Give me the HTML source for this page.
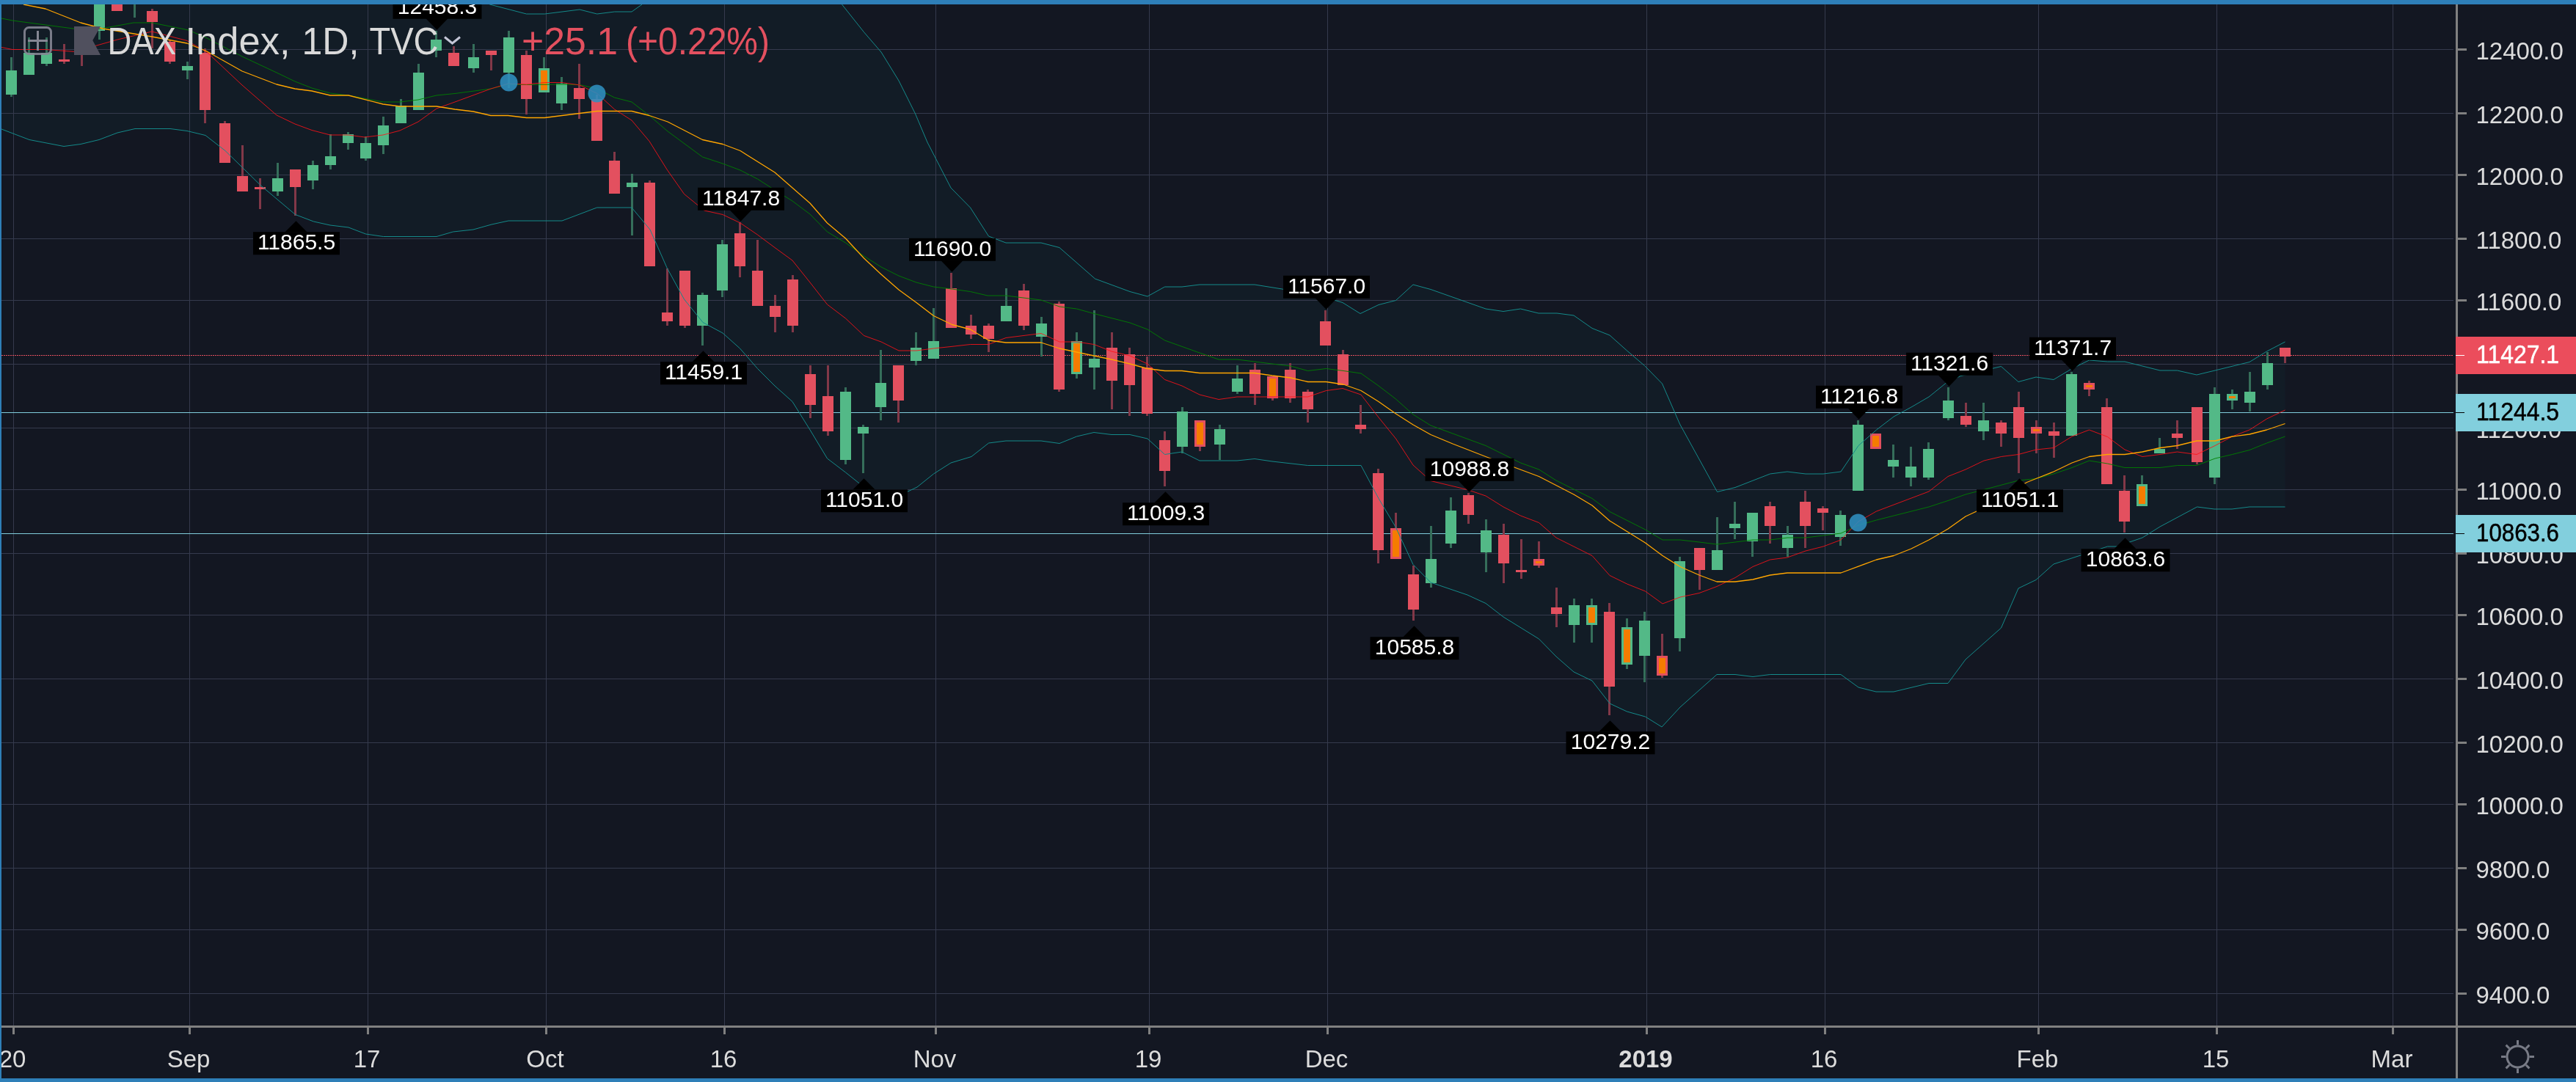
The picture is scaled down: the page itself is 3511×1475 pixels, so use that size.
<!DOCTYPE html>
<html><head><meta charset="utf-8"><title>DAX Index</title>
<style>html,body{margin:0;padding:0;background:#131722;width:3511px;height:1475px}</style>
</head><body>
<svg width="3511" height="1475" viewBox="0 0 3511 1475" style="position:absolute;left:0;top:0;display:block;will-change:transform">
<defs><clipPath id="cp"><rect x="2" y="6" width="3345" height="1392"/></clipPath></defs>
<rect width="3511" height="1475" fill="#131722"/>
<g clip-path="url(#cp)">
<polygon points="2,-60 640,-20 667.5,6 717.5,19 742.5,19 790,13 813.75,19 837.5,16 861,16 875,6 900,-30 1120,-40 1147.5,6 1177.5,43.75 1201,71 1225,110 1247.5,155 1264,194 1296,256 1322.5,283 1347.5,322 1371,331 1419,331 1444,337.5 1492.5,380 1540,397.5 1564,404 1587.5,391 1611,391 1635,388 1710,388 1747.5,394 1820,409.5 1830,412.5 1854,427.5 1879,415.5 1902.5,409.5 1926,388 1950,394.5 2025,421 2049,424.5 2072.5,421 2097,427 2122,427 2145,430 2170,447.5 2194,457 2217.5,478 2241.5,498.5 2265.5,523 2289.5,578 2316.5,627 2340.5,670.5 2365,664.5 2412.5,646 2436,643 2461,646 2485,646 2509,643 2533,607.5 2557.5,586 2581,568 2605,555 2629,541 2655,520 2672.5,512.5 2727.5,499.5 2751,520.5 2775,514 2799,517.5 2824,502.5 2847.5,491 2872.5,493 2896,493 2944,505 2967.5,505 2994,511 3019,505 3066,493.5 3089.5,479 3114.5,466 3114.5,691 3066,691 3042,694 3018,694 2994.5,691 2944,718 2920,733 2885,745 2872.5,745 2799,769 2775,790.5 2751,802 2727.5,856 2679,899 2655,931.5 2629,931.5 2581,943 2557,943 2533,937 2509,919.5 2412.5,919.5 2389,922.5 2365,919.5 2340,919.5 2290,964 2265,991 2242.5,977 2217.5,970 2194,959 2170,928 2145,916 2121,895 2097.5,871 2049,841 2025,822.5 2000,811 1950,794 1926,769.5 1902.5,719 1879,679.5 1855,634.5 1782.5,634.5 1734,629 1710,625.5 1686,628 1635,628 1611,616 1587.5,619.5 1564,598 1540,592.5 1515,592.5 1491,589.5 1467.5,595 1444,604.5 1419,601 1371,601 1347.5,604 1324,622.5 1296,631 1272.5,646 1250,664 1225,676 1201,676 1177.5,664 1152.5,644 1127.5,625 1104,586 1080,547.5 1056,526 1032.5,502.5 1008.5,475 985,454 958,439.5 932.5,408 909,365 886,313 861,283 813.5,283 766,301 693,301 670,306 645,313 617.5,316 595,322.5 522.5,322.5 498.5,319 475,310 450,307 427.5,302 402.5,292.5 355,252.5 330,228 307,205.5 280,184.5 255,178.5 232,175.5 184,175.5 160,181 135,190.5 110,196.5 87,199.5 40,190.5 2,176" fill="#009688" fill-opacity="0.042"/>
<g shape-rendering="crispEdges" fill="#353a4d">
<rect x="2" y="67" width="3342" height="1"/>
<rect x="2" y="154" width="3342" height="1"/>
<rect x="2" y="238" width="3342" height="1"/>
<rect x="2" y="325" width="3342" height="1"/>
<rect x="2" y="409" width="3342" height="1"/>
<rect x="2" y="496" width="3342" height="1"/>
<rect x="2" y="583" width="3342" height="1"/>
<rect x="2" y="667" width="3342" height="1"/>
<rect x="2" y="754" width="3342" height="1"/>
<rect x="2" y="838" width="3342" height="1"/>
<rect x="2" y="925" width="3342" height="1"/>
<rect x="2" y="1012" width="3342" height="1"/>
<rect x="2" y="1096" width="3342" height="1"/>
<rect x="2" y="1183" width="3342" height="1"/>
<rect x="2" y="1267" width="3342" height="1"/>
<rect x="2" y="1354" width="3342" height="1"/>
<rect x="18" y="6" width="1" height="1392"/>
<rect x="258" y="6" width="1" height="1392"/>
<rect x="501" y="6" width="1" height="1392"/>
<rect x="744" y="6" width="1" height="1392"/>
<rect x="987" y="6" width="1" height="1392"/>
<rect x="1275" y="6" width="1" height="1392"/>
<rect x="1566" y="6" width="1" height="1392"/>
<rect x="1809" y="6" width="1" height="1392"/>
<rect x="2244" y="6" width="1" height="1392"/>
<rect x="2487" y="6" width="1" height="1392"/>
<rect x="2778" y="6" width="1" height="1392"/>
<rect x="3021" y="6" width="1" height="1392"/>
<rect x="3261" y="6" width="1" height="1392"/>
</g>
<g shape-rendering="crispEdges">
<rect x="2" y="562" width="3342" height="1" fill="#80cddc"/>
<rect x="2" y="727" width="3342" height="1" fill="#80cddc"/>
</g>
<line x1="2" y1="484.5" x2="3344" y2="484.5" stroke="#e3505f" stroke-width="1" stroke-dasharray="2 1" shape-rendering="crispEdges"/>
<g shape-rendering="crispEdges">
<rect x="14" y="78" width="3" height="54" fill="#356e5a"/>
<rect x="8" y="96" width="15" height="33" fill="#53b987"/>
<rect x="38" y="51" width="3" height="51" fill="#356e5a"/>
<rect x="32" y="72" width="15" height="30" fill="#53b987"/>
<rect x="62" y="51" width="3" height="39" fill="#356e5a"/>
<rect x="56" y="72" width="15" height="15" fill="#53b987"/>
<rect x="86" y="60" width="3" height="27" fill="#823848"/>
<rect x="80" y="81" width="15" height="3" fill="#e3505f"/>
<rect x="110" y="57" width="3" height="33" fill="#823848"/>
<rect x="104" y="60" width="15" height="15" fill="#e3505f"/>
<rect x="134" y="-30" width="3" height="84" fill="#356e5a"/>
<rect x="128" y="-30" width="15" height="72" fill="#53b987"/>
<rect x="158" y="-20" width="3" height="35" fill="#823848"/>
<rect x="152" y="-20" width="15" height="35" fill="#e3505f"/>
<rect x="182" y="-40" width="3" height="64" fill="#356e5a"/>
<rect x="176" y="-40" width="15" height="30" fill="#53b987"/>
<rect x="206" y="12" width="3" height="54" fill="#823848"/>
<rect x="200" y="15" width="15" height="15" fill="#e3505f"/>
<rect x="230" y="54" width="3" height="33" fill="#823848"/>
<rect x="224" y="57" width="15" height="27" fill="#e3505f"/>
<rect x="254" y="84" width="3" height="24" fill="#356e5a"/>
<rect x="248" y="90" width="15" height="6" fill="#53b987"/>
<rect x="278" y="66" width="3" height="102" fill="#823848"/>
<rect x="272" y="72" width="15" height="78" fill="#e3505f"/>
<rect x="305" y="165" width="3" height="57" fill="#823848"/>
<rect x="299" y="168" width="15" height="54" fill="#e3505f"/>
<rect x="329" y="198" width="3" height="63" fill="#823848"/>
<rect x="323" y="240" width="15" height="21" fill="#e3505f"/>
<rect x="353" y="243" width="3" height="42" fill="#823848"/>
<rect x="347" y="255" width="15" height="3" fill="#e3505f"/>
<rect x="377" y="222" width="3" height="45" fill="#356e5a"/>
<rect x="371" y="243" width="15" height="18" fill="#53b987"/>
<rect x="401" y="231" width="3" height="63" fill="#823848"/>
<rect x="395" y="231" width="15" height="24" fill="#e3505f"/>
<rect x="425" y="219" width="3" height="39" fill="#356e5a"/>
<rect x="419" y="225" width="15" height="21" fill="#53b987"/>
<rect x="449" y="183" width="3" height="48" fill="#356e5a"/>
<rect x="443" y="213" width="15" height="12" fill="#53b987"/>
<rect x="473" y="180" width="3" height="24" fill="#356e5a"/>
<rect x="467" y="183" width="15" height="12" fill="#53b987"/>
<rect x="497" y="186" width="3" height="33" fill="#356e5a"/>
<rect x="491" y="195" width="15" height="21" fill="#53b987"/>
<rect x="521" y="159" width="3" height="51" fill="#356e5a"/>
<rect x="515" y="171" width="15" height="27" fill="#53b987"/>
<rect x="545" y="135" width="3" height="33" fill="#356e5a"/>
<rect x="539" y="144" width="15" height="24" fill="#53b987"/>
<rect x="569" y="87" width="3" height="63" fill="#356e5a"/>
<rect x="563" y="99" width="15" height="51" fill="#53b987"/>
<rect x="593" y="42" width="3" height="36" fill="#356e5a"/>
<rect x="587" y="54" width="15" height="15" fill="#53b987"/>
<rect x="617" y="63" width="3" height="27" fill="#823848"/>
<rect x="611" y="72" width="15" height="18" fill="#e3505f"/>
<rect x="644" y="60" width="3" height="39" fill="#356e5a"/>
<rect x="638" y="78" width="15" height="15" fill="#53b987"/>
<rect x="668" y="69" width="3" height="27" fill="#823848"/>
<rect x="662" y="69" width="15" height="6" fill="#e3505f"/>
<rect x="692" y="42" width="3" height="78" fill="#356e5a"/>
<rect x="686" y="51" width="15" height="48" fill="#53b987"/>
<rect x="716" y="69" width="3" height="87" fill="#823848"/>
<rect x="710" y="75" width="15" height="60" fill="#e3505f"/>
<rect x="740" y="78" width="3" height="48" fill="#356e5a"/>
<rect x="734" y="93" width="15" height="33" fill="#53b987"/>
<rect x="737" y="96" width="9" height="27" fill="#f57c00"/>
<rect x="764" y="105" width="3" height="45" fill="#356e5a"/>
<rect x="758" y="114" width="15" height="27" fill="#53b987"/>
<rect x="788" y="87" width="3" height="75" fill="#823848"/>
<rect x="782" y="120" width="15" height="15" fill="#e3505f"/>
<rect x="812" y="129" width="3" height="63" fill="#823848"/>
<rect x="806" y="135" width="15" height="57" fill="#e3505f"/>
<rect x="836" y="207" width="3" height="57" fill="#823848"/>
<rect x="830" y="219" width="15" height="45" fill="#e3505f"/>
<rect x="860" y="237" width="3" height="84" fill="#356e5a"/>
<rect x="854" y="249" width="15" height="6" fill="#53b987"/>
<rect x="884" y="246" width="3" height="117" fill="#823848"/>
<rect x="878" y="249" width="15" height="114" fill="#e3505f"/>
<rect x="908" y="366" width="3" height="78" fill="#823848"/>
<rect x="902" y="426" width="15" height="12" fill="#e3505f"/>
<rect x="932" y="369" width="3" height="78" fill="#823848"/>
<rect x="926" y="369" width="15" height="75" fill="#e3505f"/>
<rect x="956" y="399" width="3" height="72" fill="#356e5a"/>
<rect x="950" y="402" width="15" height="42" fill="#53b987"/>
<rect x="983" y="327" width="3" height="78" fill="#356e5a"/>
<rect x="977" y="333" width="15" height="63" fill="#53b987"/>
<rect x="1007" y="303" width="3" height="75" fill="#823848"/>
<rect x="1001" y="318" width="15" height="45" fill="#e3505f"/>
<rect x="1031" y="327" width="3" height="90" fill="#823848"/>
<rect x="1025" y="369" width="15" height="48" fill="#e3505f"/>
<rect x="1055" y="402" width="3" height="51" fill="#823848"/>
<rect x="1049" y="417" width="15" height="15" fill="#e3505f"/>
<rect x="1079" y="375" width="3" height="78" fill="#823848"/>
<rect x="1073" y="381" width="15" height="63" fill="#e3505f"/>
<rect x="1103" y="498" width="3" height="72" fill="#823848"/>
<rect x="1097" y="510" width="15" height="42" fill="#e3505f"/>
<rect x="1127" y="498" width="3" height="96" fill="#823848"/>
<rect x="1121" y="540" width="15" height="48" fill="#e3505f"/>
<rect x="1151" y="528" width="3" height="105" fill="#356e5a"/>
<rect x="1145" y="534" width="15" height="93" fill="#53b987"/>
<rect x="1175" y="579" width="3" height="66" fill="#356e5a"/>
<rect x="1169" y="582" width="15" height="9" fill="#53b987"/>
<rect x="1199" y="477" width="3" height="96" fill="#356e5a"/>
<rect x="1193" y="522" width="15" height="33" fill="#53b987"/>
<rect x="1223" y="498" width="3" height="78" fill="#823848"/>
<rect x="1217" y="498" width="15" height="48" fill="#e3505f"/>
<rect x="1247" y="453" width="3" height="45" fill="#356e5a"/>
<rect x="1241" y="474" width="15" height="18" fill="#53b987"/>
<rect x="1271" y="420" width="3" height="69" fill="#356e5a"/>
<rect x="1265" y="465" width="15" height="24" fill="#53b987"/>
<rect x="1295" y="372" width="3" height="75" fill="#823848"/>
<rect x="1289" y="393" width="15" height="54" fill="#e3505f"/>
<rect x="1322" y="429" width="3" height="33" fill="#823848"/>
<rect x="1316" y="444" width="15" height="12" fill="#e3505f"/>
<rect x="1346" y="441" width="3" height="39" fill="#823848"/>
<rect x="1340" y="444" width="15" height="18" fill="#e3505f"/>
<rect x="1370" y="393" width="3" height="45" fill="#356e5a"/>
<rect x="1364" y="417" width="15" height="21" fill="#53b987"/>
<rect x="1394" y="387" width="3" height="63" fill="#823848"/>
<rect x="1388" y="396" width="15" height="48" fill="#e3505f"/>
<rect x="1418" y="432" width="3" height="54" fill="#356e5a"/>
<rect x="1412" y="441" width="15" height="18" fill="#53b987"/>
<rect x="1442" y="411" width="3" height="123" fill="#823848"/>
<rect x="1436" y="414" width="15" height="117" fill="#e3505f"/>
<rect x="1466" y="453" width="3" height="63" fill="#356e5a"/>
<rect x="1460" y="465" width="15" height="45" fill="#53b987"/>
<rect x="1463" y="468" width="9" height="39" fill="#f57c00"/>
<rect x="1490" y="423" width="3" height="108" fill="#356e5a"/>
<rect x="1484" y="489" width="15" height="12" fill="#53b987"/>
<rect x="1514" y="453" width="3" height="105" fill="#823848"/>
<rect x="1508" y="474" width="15" height="45" fill="#e3505f"/>
<rect x="1538" y="474" width="3" height="93" fill="#823848"/>
<rect x="1532" y="483" width="15" height="42" fill="#e3505f"/>
<rect x="1562" y="486" width="3" height="81" fill="#823848"/>
<rect x="1556" y="501" width="15" height="63" fill="#e3505f"/>
<rect x="1586" y="588" width="3" height="75" fill="#823848"/>
<rect x="1580" y="600" width="15" height="42" fill="#e3505f"/>
<rect x="1610" y="555" width="3" height="63" fill="#356e5a"/>
<rect x="1604" y="561" width="15" height="48" fill="#53b987"/>
<rect x="1634" y="573" width="3" height="42" fill="#823848"/>
<rect x="1628" y="573" width="15" height="36" fill="#e3505f"/>
<rect x="1631" y="576" width="9" height="30" fill="#f57c00"/>
<rect x="1661" y="579" width="3" height="48" fill="#356e5a"/>
<rect x="1655" y="585" width="15" height="21" fill="#53b987"/>
<rect x="1685" y="498" width="3" height="39" fill="#356e5a"/>
<rect x="1679" y="516" width="15" height="18" fill="#53b987"/>
<rect x="1709" y="495" width="3" height="57" fill="#823848"/>
<rect x="1703" y="504" width="15" height="33" fill="#e3505f"/>
<rect x="1733" y="513" width="3" height="33" fill="#823848"/>
<rect x="1727" y="513" width="15" height="30" fill="#e3505f"/>
<rect x="1730" y="516" width="9" height="24" fill="#f57c00"/>
<rect x="1757" y="495" width="3" height="54" fill="#823848"/>
<rect x="1751" y="504" width="15" height="39" fill="#e3505f"/>
<rect x="1781" y="531" width="3" height="45" fill="#823848"/>
<rect x="1775" y="534" width="15" height="24" fill="#e3505f"/>
<rect x="1805" y="423" width="3" height="48" fill="#823848"/>
<rect x="1799" y="438" width="15" height="33" fill="#e3505f"/>
<rect x="1829" y="477" width="3" height="48" fill="#823848"/>
<rect x="1823" y="483" width="15" height="42" fill="#e3505f"/>
<rect x="1853" y="552" width="3" height="39" fill="#823848"/>
<rect x="1847" y="579" width="15" height="6" fill="#e3505f"/>
<rect x="1877" y="639" width="3" height="129" fill="#823848"/>
<rect x="1871" y="645" width="15" height="105" fill="#e3505f"/>
<rect x="1901" y="699" width="3" height="63" fill="#823848"/>
<rect x="1895" y="720" width="15" height="42" fill="#e3505f"/>
<rect x="1898" y="723" width="9" height="36" fill="#f57c00"/>
<rect x="1925" y="771" width="3" height="75" fill="#823848"/>
<rect x="1919" y="783" width="15" height="48" fill="#e3505f"/>
<rect x="1949" y="717" width="3" height="84" fill="#356e5a"/>
<rect x="1943" y="762" width="15" height="33" fill="#53b987"/>
<rect x="1976" y="678" width="3" height="69" fill="#356e5a"/>
<rect x="1970" y="696" width="15" height="45" fill="#53b987"/>
<rect x="2000" y="672" width="3" height="42" fill="#823848"/>
<rect x="1994" y="675" width="15" height="27" fill="#e3505f"/>
<rect x="2024" y="708" width="3" height="72" fill="#356e5a"/>
<rect x="2018" y="723" width="15" height="30" fill="#53b987"/>
<rect x="2048" y="714" width="3" height="81" fill="#823848"/>
<rect x="2042" y="729" width="15" height="39" fill="#e3505f"/>
<rect x="2072" y="735" width="3" height="54" fill="#823848"/>
<rect x="2066" y="777" width="15" height="3" fill="#e3505f"/>
<rect x="2096" y="738" width="3" height="36" fill="#823848"/>
<rect x="2090" y="762" width="15" height="9" fill="#e3505f"/>
<rect x="2093" y="765" width="9" height="3" fill="#f57c00"/>
<rect x="2120" y="801" width="3" height="54" fill="#823848"/>
<rect x="2114" y="828" width="15" height="9" fill="#e3505f"/>
<rect x="2144" y="816" width="3" height="60" fill="#356e5a"/>
<rect x="2138" y="825" width="15" height="27" fill="#53b987"/>
<rect x="2168" y="816" width="3" height="60" fill="#356e5a"/>
<rect x="2162" y="825" width="15" height="27" fill="#53b987"/>
<rect x="2165" y="828" width="9" height="21" fill="#f57c00"/>
<rect x="2192" y="822" width="3" height="153" fill="#823848"/>
<rect x="2186" y="834" width="15" height="102" fill="#e3505f"/>
<rect x="2216" y="843" width="3" height="69" fill="#356e5a"/>
<rect x="2210" y="855" width="15" height="51" fill="#53b987"/>
<rect x="2213" y="858" width="9" height="45" fill="#f57c00"/>
<rect x="2240" y="834" width="3" height="96" fill="#356e5a"/>
<rect x="2234" y="846" width="15" height="48" fill="#53b987"/>
<rect x="2264" y="864" width="3" height="60" fill="#823848"/>
<rect x="2258" y="894" width="15" height="27" fill="#e3505f"/>
<rect x="2261" y="897" width="9" height="21" fill="#f57c00"/>
<rect x="2288" y="759" width="3" height="129" fill="#356e5a"/>
<rect x="2282" y="765" width="15" height="105" fill="#53b987"/>
<rect x="2315" y="747" width="3" height="57" fill="#823848"/>
<rect x="2309" y="747" width="15" height="30" fill="#e3505f"/>
<rect x="2339" y="705" width="3" height="72" fill="#356e5a"/>
<rect x="2333" y="750" width="15" height="27" fill="#53b987"/>
<rect x="2363" y="684" width="3" height="51" fill="#356e5a"/>
<rect x="2357" y="714" width="15" height="6" fill="#53b987"/>
<rect x="2387" y="699" width="3" height="60" fill="#356e5a"/>
<rect x="2381" y="699" width="15" height="39" fill="#53b987"/>
<rect x="2411" y="684" width="3" height="57" fill="#823848"/>
<rect x="2405" y="690" width="15" height="27" fill="#e3505f"/>
<rect x="2435" y="717" width="3" height="42" fill="#356e5a"/>
<rect x="2429" y="729" width="15" height="18" fill="#53b987"/>
<rect x="2459" y="669" width="3" height="78" fill="#823848"/>
<rect x="2453" y="684" width="15" height="33" fill="#e3505f"/>
<rect x="2483" y="690" width="3" height="33" fill="#823848"/>
<rect x="2477" y="693" width="15" height="6" fill="#e3505f"/>
<rect x="2507" y="696" width="3" height="48" fill="#356e5a"/>
<rect x="2501" y="702" width="15" height="30" fill="#53b987"/>
<rect x="2531" y="573" width="3" height="96" fill="#356e5a"/>
<rect x="2525" y="579" width="15" height="90" fill="#53b987"/>
<rect x="2555" y="591" width="3" height="21" fill="#823848"/>
<rect x="2549" y="591" width="15" height="21" fill="#e3505f"/>
<rect x="2552" y="594" width="9" height="15" fill="#f57c00"/>
<rect x="2579" y="606" width="3" height="45" fill="#356e5a"/>
<rect x="2573" y="627" width="15" height="9" fill="#53b987"/>
<rect x="2603" y="609" width="3" height="54" fill="#356e5a"/>
<rect x="2597" y="636" width="15" height="15" fill="#53b987"/>
<rect x="2627" y="603" width="3" height="51" fill="#356e5a"/>
<rect x="2621" y="612" width="15" height="39" fill="#53b987"/>
<rect x="2654" y="528" width="3" height="45" fill="#356e5a"/>
<rect x="2648" y="546" width="15" height="24" fill="#53b987"/>
<rect x="2678" y="549" width="3" height="33" fill="#823848"/>
<rect x="2672" y="567" width="15" height="12" fill="#e3505f"/>
<rect x="2702" y="549" width="3" height="51" fill="#356e5a"/>
<rect x="2696" y="573" width="15" height="15" fill="#53b987"/>
<rect x="2726" y="573" width="3" height="36" fill="#823848"/>
<rect x="2720" y="576" width="15" height="15" fill="#e3505f"/>
<rect x="2750" y="534" width="3" height="111" fill="#823848"/>
<rect x="2744" y="555" width="15" height="42" fill="#e3505f"/>
<rect x="2774" y="573" width="3" height="45" fill="#823848"/>
<rect x="2768" y="582" width="15" height="9" fill="#e3505f"/>
<rect x="2771" y="585" width="9" height="3" fill="#f57c00"/>
<rect x="2798" y="576" width="3" height="48" fill="#823848"/>
<rect x="2792" y="588" width="15" height="6" fill="#e3505f"/>
<rect x="2822" y="507" width="3" height="87" fill="#356e5a"/>
<rect x="2816" y="510" width="15" height="84" fill="#53b987"/>
<rect x="2846" y="519" width="3" height="21" fill="#823848"/>
<rect x="2840" y="522" width="15" height="9" fill="#e3505f"/>
<rect x="2843" y="525" width="9" height="3" fill="#f57c00"/>
<rect x="2870" y="543" width="3" height="117" fill="#823848"/>
<rect x="2864" y="555" width="15" height="105" fill="#e3505f"/>
<rect x="2894" y="648" width="3" height="78" fill="#823848"/>
<rect x="2888" y="669" width="15" height="42" fill="#e3505f"/>
<rect x="2918" y="648" width="3" height="42" fill="#356e5a"/>
<rect x="2912" y="660" width="15" height="30" fill="#53b987"/>
<rect x="2915" y="663" width="9" height="24" fill="#f57c00"/>
<rect x="2942" y="597" width="3" height="21" fill="#356e5a"/>
<rect x="2936" y="612" width="15" height="6" fill="#53b987"/>
<rect x="2966" y="573" width="3" height="39" fill="#823848"/>
<rect x="2960" y="591" width="15" height="6" fill="#e3505f"/>
<rect x="2993" y="555" width="3" height="78" fill="#823848"/>
<rect x="2987" y="555" width="15" height="75" fill="#e3505f"/>
<rect x="3017" y="528" width="3" height="132" fill="#356e5a"/>
<rect x="3011" y="537" width="15" height="114" fill="#53b987"/>
<rect x="3041" y="531" width="3" height="27" fill="#356e5a"/>
<rect x="3035" y="537" width="15" height="9" fill="#53b987"/>
<rect x="3038" y="540" width="9" height="3" fill="#f57c00"/>
<rect x="3065" y="507" width="3" height="54" fill="#356e5a"/>
<rect x="3059" y="534" width="15" height="15" fill="#53b987"/>
<rect x="3089" y="480" width="3" height="51" fill="#356e5a"/>
<rect x="3083" y="495" width="15" height="30" fill="#53b987"/>
<rect x="3113" y="474" width="3" height="21" fill="#823848"/>
<rect x="3107" y="474" width="15" height="12" fill="#e3505f"/>
</g>
<polyline points="2,-60 640,-20 667.5,6 717.5,19 742.5,19 790,13 813.75,19 837.5,16 861,16 875,6 900,-30 1120,-40 1147.5,6 1177.5,43.75 1201,71 1225,110 1247.5,155 1264,194 1296,256 1322.5,283 1347.5,322 1371,331 1419,331 1444,337.5 1492.5,380 1540,397.5 1564,404 1587.5,391 1611,391 1635,388 1710,388 1747.5,394 1820,409.5 1830,412.5 1854,427.5 1879,415.5 1902.5,409.5 1926,388 1950,394.5 2025,421 2049,424.5 2072.5,421 2097,427 2122,427 2145,430 2170,447.5 2194,457 2217.5,478 2241.5,498.5 2265.5,523 2289.5,578 2316.5,627 2340.5,670.5 2365,664.5 2412.5,646 2436,643 2461,646 2485,646 2509,643 2533,607.5 2557.5,586 2581,568 2605,555 2629,541 2655,520 2672.5,512.5 2727.5,499.5 2751,520.5 2775,514 2799,517.5 2824,502.5 2847.5,491 2872.5,493 2896,493 2944,505 2967.5,505 2994,511 3019,505 3066,493.5 3089.5,479 3114.5,466" fill="none" stroke="#148a8a" stroke-width="1" stroke-linejoin="round"/>
<polyline points="2,176 40,190.5 87,199.5 110,196.5 135,190.5 160,181 184,175.5 232,175.5 255,178.5 280,184.5 307,205.5 330,228 355,252.5 402.5,292.5 427.5,302 450,307 475,310 498.5,319 522.5,322.5 595,322.5 617.5,316 645,313 670,306 693,301 766,301 813.5,283 861,283 886,313 909,365 932.5,408 958,439.5 985,454 1008.5,475 1032.5,502.5 1056,526 1080,547.5 1104,586 1127.5,625 1152.5,644 1177.5,664 1201,676 1225,676 1250,664 1272.5,646 1296,631 1324,622.5 1347.5,604 1371,601 1419,601 1444,604.5 1467.5,595 1491,589.5 1515,592.5 1540,592.5 1564,598 1587.5,619.5 1611,616 1635,628 1686,628 1710,625.5 1734,629 1782.5,634.5 1855,634.5 1879,679.5 1902.5,719 1926,769.5 1950,794 2000,811 2025,822.5 2049,841 2097.5,871 2121,895 2145,916 2170,928 2194,959 2217.5,970 2242.5,977 2265,991 2290,964 2340,919.5 2365,919.5 2389,922.5 2412.5,919.5 2509,919.5 2533,937 2557,943 2581,943 2629,931.5 2655,931.5 2679,899 2727.5,856 2751,802 2775,790.5 2799,769 2872.5,745 2885,745 2920,733 2944,718 2994.5,691 3018,694 3042,694 3066,691 3114.5,691" fill="none" stroke="#148a8a" stroke-width="1" stroke-linejoin="round"/>
<polyline points="2,25 17,28 100,39 135,39.5 182,31 207,31 257,41 282,52 330,77 377,99 402,111 425,120 450,127 475,130 522,139 545,139 570,136 595,130 620,127.5 669,121 692.5,115 717.5,115.5 766,115 790,115.5 814,121 837.5,133 861,139 885,157.5 910,179 957.5,214 985,223 1009,232 1032.5,244 1056,259 1080,274 1104,292 1127.5,316 1152.5,331 1177.5,349 1201,364 1225,376 1249,385 1272.5,391 1297.5,394 1322.5,397.5 1346,403 1371,403 1395,406 1419,409 1444,418 1467.5,421 1491,427.5 1540,440 1564,449 1587.5,464 1635,481 1661,490 1686,490 1710,493 1734,496 1759,499 1782.5,505.5 1807.5,502.5 1831,505.5 1855,509 1879,526 1902.5,544 1926,565 1950,580 2025,607.5 2072.5,631 2097.5,640 2121,655 2170,679.5 2194,697.5 2242.5,722 2266,736 2290,736 2316,739 2340,742 2365,739 2389,736 2412.5,736 2436,733 2461,733 2509,727 2533,716 2557.5,709 2629,691 2655,682.5 2679,674 2704,667.5 2751,655 2775,652.5 2799,646 2824,637.5 2847.5,628 2872.5,632 2896,637.5 2944,637.5 2967.5,634.5 2994,634.5 3019,625 3042.5,619.5 3066,613.5 3089.5,604 3114.5,595" fill="none" stroke="#008000" stroke-width="0.9" stroke-linejoin="round"/>
<polyline points="2,64.5 17,67.5 62,67.5 110,71 130,62.5 160,54 207,43 255,55.5 282,71 330,116 377,157 402,169 425,177.5 450,184 475,184 497,187 522,184 545,178 570,166 595,148 620,139 669,121 692.5,114 717.5,115 742.5,112.5 766,112.5 790,116 814,127.5 837.5,149 861,164 885,192.5 909,231 932.5,264.5 960,287 985,292.5 1009,304 1032.5,320 1056,337.5 1080,355 1104,385 1127.5,415 1152.5,434 1177.5,457.5 1201,466 1225,478 1249,478 1272.5,475 1296,472.5 1322.5,469.5 1347.5,469.5 1371,460.5 1395,457.5 1419,454.5 1444,466 1467.5,466 1491,469.5 1515,479 1540,485 1564,496 1587.5,517.5 1611,526 1635,538 1661,544.5 1686,541 1782.5,541 1807.5,532.5 1830,529.5 1855,538 1879,569 1902.5,598 1926,634 1950,655.5 2000,667.5 2025,676 2049,691 2072.5,703 2097.5,712.5 2121,733 2170,757.5 2194,784.5 2217.5,796 2242.5,806 2266,823 2290,814 2316,808.5 2340,799.5 2365,787.5 2389,772.5 2412.5,763 2436,760 2461,751 2485,745 2509,736 2533,711 2557.5,697 2629,670 2655,649.5 2679,640 2704,628 2727.5,622.5 2751,619.5 2775,613 2799,610.5 2824,595 2847.5,586 2872.5,595.5 2896,613 2920,622.5 2944,619.5 2967.5,616 2994,619.5 3019,607.5 3042.5,595 3066,586 3089.5,571 3114.5,559" fill="none" stroke="#ff1018" stroke-width="0.85" stroke-linejoin="round"/>
<polyline points="32,6 62,12 110,31 140,39 207,50 255,59 282,70 330,97 377,115 402,121 425,124 450,130 475,130 522,142 545,145 595,145 620,149 645,152 669,157.5 692.5,157.5 717.5,160.5 742.5,160.5 766,157.5 790,154.5 814,151.5 861,151.5 885,157.5 910,166 957.5,190.5 985,196.5 1009,205.5 1056,235 1104,277 1127.5,304 1152.5,325 1177.5,352 1201,374 1225,395 1249,412.5 1272.5,430.5 1297.5,442.5 1322.5,449 1347.5,464 1371,467 1419,467 1444,475 1467.5,480 1491,485 1515,490 1540,496 1564,502.5 1587.5,505.5 1611,505.5 1635,508.5 1710,508.5 1734,512 1759,515 1782.5,520.5 1807.5,520.5 1831,524 1855,532.5 1879,547.5 1902.5,564 1926,579 1950,592.5 1980,605 2025,622.5 2097.5,649.5 2145,674 2170,689 2194,710 2217.5,724.5 2242.5,740 2266,757.5 2290,772.5 2316,784 2340,793 2365,793 2389,790 2412.5,784 2436,781 2509,781 2557.5,763 2581,757.5 2605,748 2629,736 2655,721 2679,704 2694,697 2762.5,657.5 2775,652.5 2799,643 2824,631 2847.5,622.5 2872.5,619.5 2896,619.5 2920,616 2944,610.5 2967.5,607.5 2994,601 3019,601 3042.5,595 3066,592 3089.5,586 3114.5,577.5" fill="none" stroke="#ffa500" stroke-width="1.3" stroke-linejoin="round"/>
<circle cx="693.5" cy="112.5" r="12" fill="#2f90c0" fill-opacity="0.88"/>
<circle cx="813.5" cy="127.5" r="12" fill="#2f90c0" fill-opacity="0.88"/>
<circle cx="2532.5" cy="712.5" r="12" fill="#2f90c0" fill-opacity="0.88"/>
<polygon points="580.5,25.25 610.5,25.25 595.5,40.75" fill="#000"/>
<rect x="535.5" y="-5.25" width="121" height="31" fill="#000"/>
<text x="596" y="18.75" font-family="Liberation Sans, sans-serif" font-size="30" fill="#fff" text-anchor="middle">12458.3</text>
<polygon points="388.5,316.25 418.5,316.25 403.5,301.25" fill="#000"/>
<rect x="345" y="316.25" width="118" height="31" fill="#000"/>
<text x="404" y="340.25" font-family="Liberation Sans, sans-serif" font-size="30" fill="#fff" text-anchor="middle">11865.5</text>
<polygon points="994.5,286.25 1024.5,286.25 1009.5,301.75" fill="#000"/>
<rect x="951" y="255.75" width="118" height="31" fill="#000"/>
<text x="1010" y="279.75" font-family="Liberation Sans, sans-serif" font-size="30" fill="#fff" text-anchor="middle">11847.8</text>
<polygon points="943.5,493.25 973.5,493.25 958.5,478.25" fill="#000"/>
<rect x="900" y="493.25" width="118" height="31" fill="#000"/>
<text x="959" y="517.25" font-family="Liberation Sans, sans-serif" font-size="30" fill="#fff" text-anchor="middle">11459.1</text>
<polygon points="1282.5,355.25 1312.5,355.25 1297.5,370.75" fill="#000"/>
<rect x="1239" y="324.75" width="118" height="31" fill="#000"/>
<text x="1298" y="348.75" font-family="Liberation Sans, sans-serif" font-size="30" fill="#fff" text-anchor="middle">11690.0</text>
<polygon points="1162.5,667.25 1192.5,667.25 1177.5,652.25" fill="#000"/>
<rect x="1119" y="667.25" width="118" height="31" fill="#000"/>
<text x="1178" y="691.25" font-family="Liberation Sans, sans-serif" font-size="30" fill="#fff" text-anchor="middle">11051.0</text>
<polygon points="1573.5,685.25 1603.5,685.25 1588.5,670.25" fill="#000"/>
<rect x="1530" y="685.25" width="118" height="31" fill="#000"/>
<text x="1589" y="709.25" font-family="Liberation Sans, sans-serif" font-size="30" fill="#fff" text-anchor="middle">11009.3</text>
<polygon points="1792.5,406.25 1822.5,406.25 1807.5,421.75" fill="#000"/>
<rect x="1749" y="375.75" width="118" height="31" fill="#000"/>
<text x="1808" y="399.75" font-family="Liberation Sans, sans-serif" font-size="30" fill="#fff" text-anchor="middle">11567.0</text>
<polygon points="1987.5,655.25 2017.5,655.25 2002.5,670.75" fill="#000"/>
<rect x="1942.5" y="624.75" width="121" height="31" fill="#000"/>
<text x="2003" y="648.75" font-family="Liberation Sans, sans-serif" font-size="30" fill="#fff" text-anchor="middle">10988.8</text>
<polygon points="1912.5,868.25 1942.5,868.25 1927.5,853.25" fill="#000"/>
<rect x="1867.5" y="868.25" width="121" height="31" fill="#000"/>
<text x="1928" y="892.25" font-family="Liberation Sans, sans-serif" font-size="30" fill="#fff" text-anchor="middle">10585.8</text>
<polygon points="2179.5,997.25 2209.5,997.25 2194.5,982.25" fill="#000"/>
<rect x="2134.5" y="997.25" width="121" height="31" fill="#000"/>
<text x="2195" y="1021.25" font-family="Liberation Sans, sans-serif" font-size="30" fill="#fff" text-anchor="middle">10279.2</text>
<polygon points="2518.5,556.25 2548.5,556.25 2533.5,571.75" fill="#000"/>
<rect x="2475" y="525.75" width="118" height="31" fill="#000"/>
<text x="2534" y="549.75" font-family="Liberation Sans, sans-serif" font-size="30" fill="#fff" text-anchor="middle">11216.8</text>
<polygon points="2641.5,511.25 2671.5,511.25 2656.5,526.75" fill="#000"/>
<rect x="2598" y="480.75" width="118" height="31" fill="#000"/>
<text x="2657" y="504.75" font-family="Liberation Sans, sans-serif" font-size="30" fill="#fff" text-anchor="middle">11321.6</text>
<polygon points="2737.5,667.25 2767.5,667.25 2752.5,652.25" fill="#000"/>
<rect x="2694" y="667.25" width="118" height="31" fill="#000"/>
<text x="2753" y="691.25" font-family="Liberation Sans, sans-serif" font-size="30" fill="#fff" text-anchor="middle">11051.1</text>
<polygon points="2809.5,490.25 2839.5,490.25 2824.5,505.75" fill="#000"/>
<rect x="2766" y="459.75" width="118" height="31" fill="#000"/>
<text x="2825" y="483.75" font-family="Liberation Sans, sans-serif" font-size="30" fill="#fff" text-anchor="middle">11371.7</text>
<polygon points="2881.5,748.25 2911.5,748.25 2896.5,733.25" fill="#000"/>
<rect x="2836.5" y="748.25" width="121" height="31" fill="#000"/>
<text x="2897" y="772.25" font-family="Liberation Sans, sans-serif" font-size="30" fill="#fff" text-anchor="middle">10863.6</text>
</g>
<g shape-rendering="crispEdges" fill="#808080">
<rect x="2" y="1398" width="3509" height="3"/>
<rect x="3347" y="6" width="3" height="1464"/>
<rect x="17" y="1401" width="3" height="9"/>
<rect x="257" y="1401" width="3" height="9"/>
<rect x="500" y="1401" width="3" height="9"/>
<rect x="743" y="1401" width="3" height="9"/>
<rect x="986" y="1401" width="3" height="9"/>
<rect x="1274" y="1401" width="3" height="9"/>
<rect x="1565" y="1401" width="3" height="9"/>
<rect x="1808" y="1401" width="3" height="9"/>
<rect x="2243" y="1401" width="3" height="9"/>
<rect x="2486" y="1401" width="3" height="9"/>
<rect x="2777" y="1401" width="3" height="9"/>
<rect x="3020" y="1401" width="3" height="9"/>
<rect x="3260" y="1401" width="3" height="9"/>
<rect x="3350" y="66" width="12" height="3"/>
<rect x="3350" y="153" width="12" height="3"/>
<rect x="3350" y="237" width="12" height="3"/>
<rect x="3350" y="324" width="12" height="3"/>
<rect x="3350" y="408" width="12" height="3"/>
<rect x="3350" y="495" width="12" height="3"/>
<rect x="3350" y="582" width="12" height="3"/>
<rect x="3350" y="666" width="12" height="3"/>
<rect x="3350" y="753" width="12" height="3"/>
<rect x="3350" y="837" width="12" height="3"/>
<rect x="3350" y="924" width="12" height="3"/>
<rect x="3350" y="1011" width="12" height="3"/>
<rect x="3350" y="1095" width="12" height="3"/>
<rect x="3350" y="1182" width="12" height="3"/>
<rect x="3350" y="1266" width="12" height="3"/>
<rect x="3350" y="1353" width="12" height="3"/>
</g>
<text x="3374.5" y="80.5" font-family="Liberation Sans, sans-serif" font-size="33" fill="#dcdcdc">12400.0</text>
<text x="3374.5" y="167.5" font-family="Liberation Sans, sans-serif" font-size="33" fill="#dcdcdc">12200.0</text>
<text x="3374.5" y="251.5" font-family="Liberation Sans, sans-serif" font-size="33" fill="#dcdcdc">12000.0</text>
<text x="3374.5" y="338.5" font-family="Liberation Sans, sans-serif" font-size="33" fill="#dcdcdc">11800.0</text>
<text x="3374.5" y="422.5" font-family="Liberation Sans, sans-serif" font-size="33" fill="#dcdcdc">11600.0</text>
<text x="3374.5" y="509.5" font-family="Liberation Sans, sans-serif" font-size="33" fill="#dcdcdc">11400.0</text>
<text x="3374.5" y="596.5" font-family="Liberation Sans, sans-serif" font-size="33" fill="#dcdcdc">11200.0</text>
<text x="3374.5" y="680.5" font-family="Liberation Sans, sans-serif" font-size="33" fill="#dcdcdc">11000.0</text>
<text x="3374.5" y="767.5" font-family="Liberation Sans, sans-serif" font-size="33" fill="#dcdcdc">10800.0</text>
<text x="3374.5" y="851.5" font-family="Liberation Sans, sans-serif" font-size="33" fill="#dcdcdc">10600.0</text>
<text x="3374.5" y="938.5" font-family="Liberation Sans, sans-serif" font-size="33" fill="#dcdcdc">10400.0</text>
<text x="3374.5" y="1025.5" font-family="Liberation Sans, sans-serif" font-size="33" fill="#dcdcdc">10200.0</text>
<text x="3374.5" y="1109.5" font-family="Liberation Sans, sans-serif" font-size="33" fill="#dcdcdc">10000.0</text>
<text x="3374.5" y="1196.5" font-family="Liberation Sans, sans-serif" font-size="33" fill="#dcdcdc">9800.0</text>
<text x="3374.5" y="1280.5" font-family="Liberation Sans, sans-serif" font-size="33" fill="#dcdcdc">9600.0</text>
<text x="3374.5" y="1367.5" font-family="Liberation Sans, sans-serif" font-size="33" fill="#dcdcdc">9400.0</text>
<rect x="3347" y="459.0" width="164" height="51" fill="#eb4d5c" shape-rendering="crispEdges"/>
<rect x="3347" y="484.0" width="12" height="1" fill="#fff" shape-rendering="crispEdges"/>
<text x="3375" y="495.3" font-family="Liberation Sans, sans-serif" font-size="35" fill="#fff" stroke="#fff" stroke-width="0.5" textLength="113" lengthAdjust="spacingAndGlyphs">11427.1</text>
<rect x="3347" y="537.0" width="164" height="51" fill="#82cfdd" shape-rendering="crispEdges"/>
<rect x="3347" y="562.0" width="12" height="1" fill="#000" shape-rendering="crispEdges"/>
<text x="3375" y="573.3" font-family="Liberation Sans, sans-serif" font-size="35" fill="#000" stroke="#000" stroke-width="0.5" textLength="113" lengthAdjust="spacingAndGlyphs">11244.5</text>
<rect x="3347" y="702.0" width="164" height="51" fill="#82cfdd" shape-rendering="crispEdges"/>
<rect x="3347" y="727.0" width="12" height="1" fill="#000" shape-rendering="crispEdges"/>
<text x="3375" y="738.3" font-family="Liberation Sans, sans-serif" font-size="35" fill="#000" stroke="#000" stroke-width="0.5" textLength="113" lengthAdjust="spacingAndGlyphs">10863.6</text>
<text x="17" y="1455" font-family="Liberation Sans, sans-serif" font-size="33" fill="#dcdcdc" text-anchor="middle">20</text>
<text x="257" y="1455" font-family="Liberation Sans, sans-serif" font-size="33" fill="#dcdcdc" text-anchor="middle">Sep</text>
<text x="500" y="1455" font-family="Liberation Sans, sans-serif" font-size="33" fill="#dcdcdc" text-anchor="middle">17</text>
<text x="743" y="1455" font-family="Liberation Sans, sans-serif" font-size="33" fill="#dcdcdc" text-anchor="middle">Oct</text>
<text x="986" y="1455" font-family="Liberation Sans, sans-serif" font-size="33" fill="#dcdcdc" text-anchor="middle">16</text>
<text x="1274" y="1455" font-family="Liberation Sans, sans-serif" font-size="33" fill="#dcdcdc" text-anchor="middle">Nov</text>
<text x="1565" y="1455" font-family="Liberation Sans, sans-serif" font-size="33" fill="#dcdcdc" text-anchor="middle">19</text>
<text x="1808" y="1455" font-family="Liberation Sans, sans-serif" font-size="33" fill="#dcdcdc" text-anchor="middle">Dec</text>
<text x="2243" y="1455" font-family="Liberation Sans, sans-serif" font-size="33" fill="#dcdcdc" text-anchor="middle" font-weight="bold">2019</text>
<text x="2486" y="1455" font-family="Liberation Sans, sans-serif" font-size="33" fill="#dcdcdc" text-anchor="middle">16</text>
<text x="2777" y="1455" font-family="Liberation Sans, sans-serif" font-size="33" fill="#dcdcdc" text-anchor="middle">Feb</text>
<text x="3020" y="1455" font-family="Liberation Sans, sans-serif" font-size="33" fill="#dcdcdc" text-anchor="middle">15</text>
<text x="3260" y="1455" font-family="Liberation Sans, sans-serif" font-size="33" fill="#dcdcdc" text-anchor="middle">Mar</text>
<g stroke="#787b86" stroke-width="3" fill="none">
<circle cx="3431.5" cy="1440.5" r="14.5"/>
<line x1="3447.50" y1="1440.50" x2="3454.00" y2="1440.50"/>
<line x1="3442.81" y1="1451.81" x2="3447.41" y2="1456.41"/>
<line x1="3431.50" y1="1456.50" x2="3431.50" y2="1463.00"/>
<line x1="3420.19" y1="1451.81" x2="3415.59" y2="1456.41"/>
<line x1="3415.50" y1="1440.50" x2="3409.00" y2="1440.50"/>
<line x1="3420.19" y1="1429.19" x2="3415.59" y2="1424.59"/>
<line x1="3431.50" y1="1424.50" x2="3431.50" y2="1418.00"/>
<line x1="3442.81" y1="1429.19" x2="3447.41" y2="1424.59"/>
</g>
<rect x="33.5" y="37.5" width="36" height="36" rx="6" fill="none" stroke="#858693" stroke-width="3" stroke-opacity="0.9"/>
<rect x="50" y="42" width="3" height="27" fill="#858693" shape-rendering="crispEdges"/>
<rect x="38" y="54" width="27" height="3" fill="#858693" shape-rendering="crispEdges"/>
<polygon points="101,36 137,36 126.3,55 137,75 101,75" fill="#50505e"/>
<text x="146.5" y="74" font-family="Liberation Sans, sans-serif" font-size="51" fill="#d9d9d9" textLength="93.5" lengthAdjust="spacingAndGlyphs">DAX</text>
<text x="252.5" y="74" font-family="Liberation Sans, sans-serif" font-size="51" fill="#d9d9d9" textLength="143" lengthAdjust="spacingAndGlyphs">Index,</text>
<text x="411.5" y="74" font-family="Liberation Sans, sans-serif" font-size="51" fill="#d9d9d9" textLength="78" lengthAdjust="spacingAndGlyphs">1D,</text>
<text x="503.5" y="74" font-family="Liberation Sans, sans-serif" font-size="51" fill="#d9d9d9" textLength="94" lengthAdjust="spacingAndGlyphs">TVC</text>
<polyline points="606,50.5 616.5,59 627,50.5" fill="none" stroke="#c4c6d6" stroke-width="3"/>
<text x="711" y="74" font-family="Liberation Sans, sans-serif" font-size="51" fill="#e3505f" textLength="131" lengthAdjust="spacingAndGlyphs">+25.1</text>
<text x="853" y="74" font-family="Liberation Sans, sans-serif" font-size="51" fill="#e3505f" textLength="196" lengthAdjust="spacingAndGlyphs">(+0.22%)</text>
<g shape-rendering="crispEdges" fill="#2e7fb8">
<rect x="0" y="0" width="3511" height="6"/>
<rect x="0" y="0" width="2" height="1475"/>
<rect x="0" y="1470" width="3511" height="5"/>
</g>
</svg>
</body></html>
